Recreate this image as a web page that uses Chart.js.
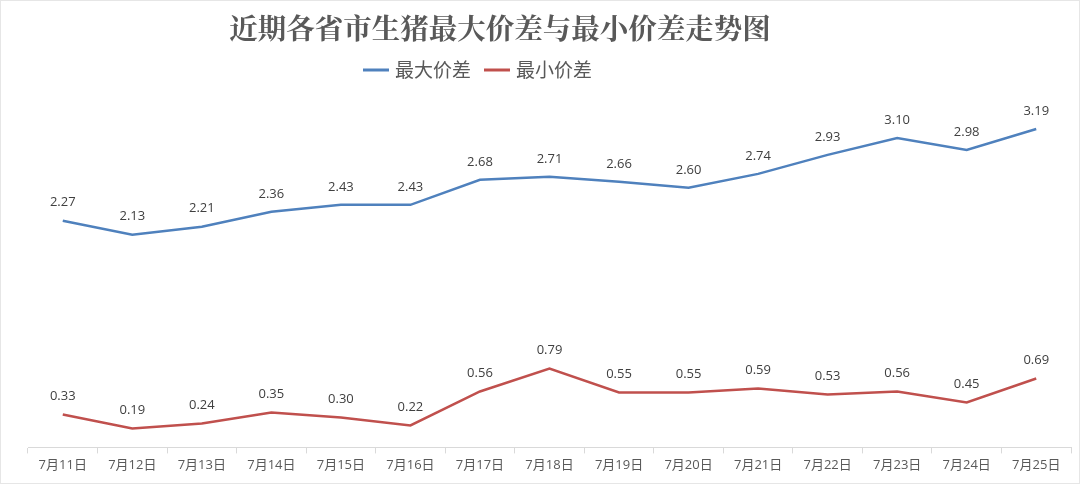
<!DOCTYPE html>
<html><head><meta charset="utf-8">
<script src="https://cdn.jsdelivr.net/npm/chart.js@4"></script>
<style>html,body{margin:0;padding:0;background:#fff;}#wrap{width:1080px;height:484px;position:relative;box-sizing:border-box;border:1px solid #e6e6e6;}</style>
</head><body><div id="wrap"><canvas id="c" width="1078" height="482"></canvas></div>
<script>
const categories = ["7月11日","7月12日","7月13日","7月14日","7月15日","7月16日","7月17日","7月18日","7月19日","7月20日","7月21日","7月22日","7月23日","7月24日","7月25日"];
const maxSpread = [2.27,2.13,2.21,2.36,2.43,2.43,2.68,2.71,2.66,2.60,2.74,2.93,3.10,2.98,3.19];
const minSpread = [0.33,0.19,0.24,0.35,0.30,0.22,0.56,0.79,0.55,0.55,0.59,0.53,0.56,0.45,0.69];
const seriesNames = ["最大价差","最小价差"];
const titleText = "近期各省市生猪最大价差与最小价差走势图";
const colors = ["#4F81BD","#C0504D"];

const deco = {
  id:'deco',
  afterDraw(chart){
    const ctx = chart.ctx;
    ctx.save();
    ctx.fillStyle = '#595959';
    ctx.textAlign = 'center'; ctx.textBaseline = 'middle';
    ctx.font = 'bold 28.5px "Noto Serif CJK SC","Noto Sans CJK SC",serif';
    ctx.fillText(titleText, 499, 27);
    // legend
    ctx.font = '19px "Noto Sans CJK SC",sans-serif';
    ctx.textAlign = 'left';
    const items = [{x:362},{x:483}];
    seriesNames.forEach((n,i)=>{
      const x = items[i].x;
      ctx.strokeStyle = colors[i]; ctx.lineWidth = 3;
      ctx.beginPath(); ctx.moveTo(x,69); ctx.lineTo(x+26,69); ctx.stroke();
      ctx.fillStyle = '#595959';
      ctx.fillText(n, x+32, 69);
    });
    // data labels
    ctx.font = '13px "Open Sans","DejaVu Sans",sans-serif';
    ctx.fillStyle = '#404040';
    ctx.textAlign = 'center'; ctx.textBaseline = 'middle';
    chart.data.datasets.forEach((ds,di)=>{
      const meta = chart.getDatasetMeta(di);
      meta.data.forEach((pt,i)=>{
        ctx.fillText(ds.data[i].toFixed(2), pt.x, pt.y-18);
      });
    });
    ctx.restore();
  }
};

new Chart(document.getElementById('c'), {
  type:'line',
  data:{labels:categories, datasets:[
    {label:seriesNames[0], data:maxSpread, borderColor:colors[0], backgroundColor:colors[0], borderWidth:2.5, pointRadius:0, tension:0},
    {label:seriesNames[1], data:minSpread, borderColor:colors[1], backgroundColor:colors[1], borderWidth:2.5, pointRadius:0, tension:0}
  ]},
  options:{
    responsive:false, animation:false,
    layout:{padding:{left:27,right:8,top:97,bottom:6}},
    plugins:{legend:{display:false}, title:{display:false}, tooltip:{enabled:false}},
    scales:{
      x:{offset:true,
        grid:{offset:true, drawOnChartArea:false, drawTicks:true, tickLength:6, color:'#d9d9d9'},
        border:{color:'#d9d9d9', width:1},
        ticks:{color:'#595959', font:{size:13, family:'"Open Sans","Noto Sans CJK SC",sans-serif'}, padding:4, maxRotation:0, autoSkip:false}
      },
      y:{display:false, min:0, max:3.5}
    }
  },
  plugins:[deco]
});
</script></body></html>
